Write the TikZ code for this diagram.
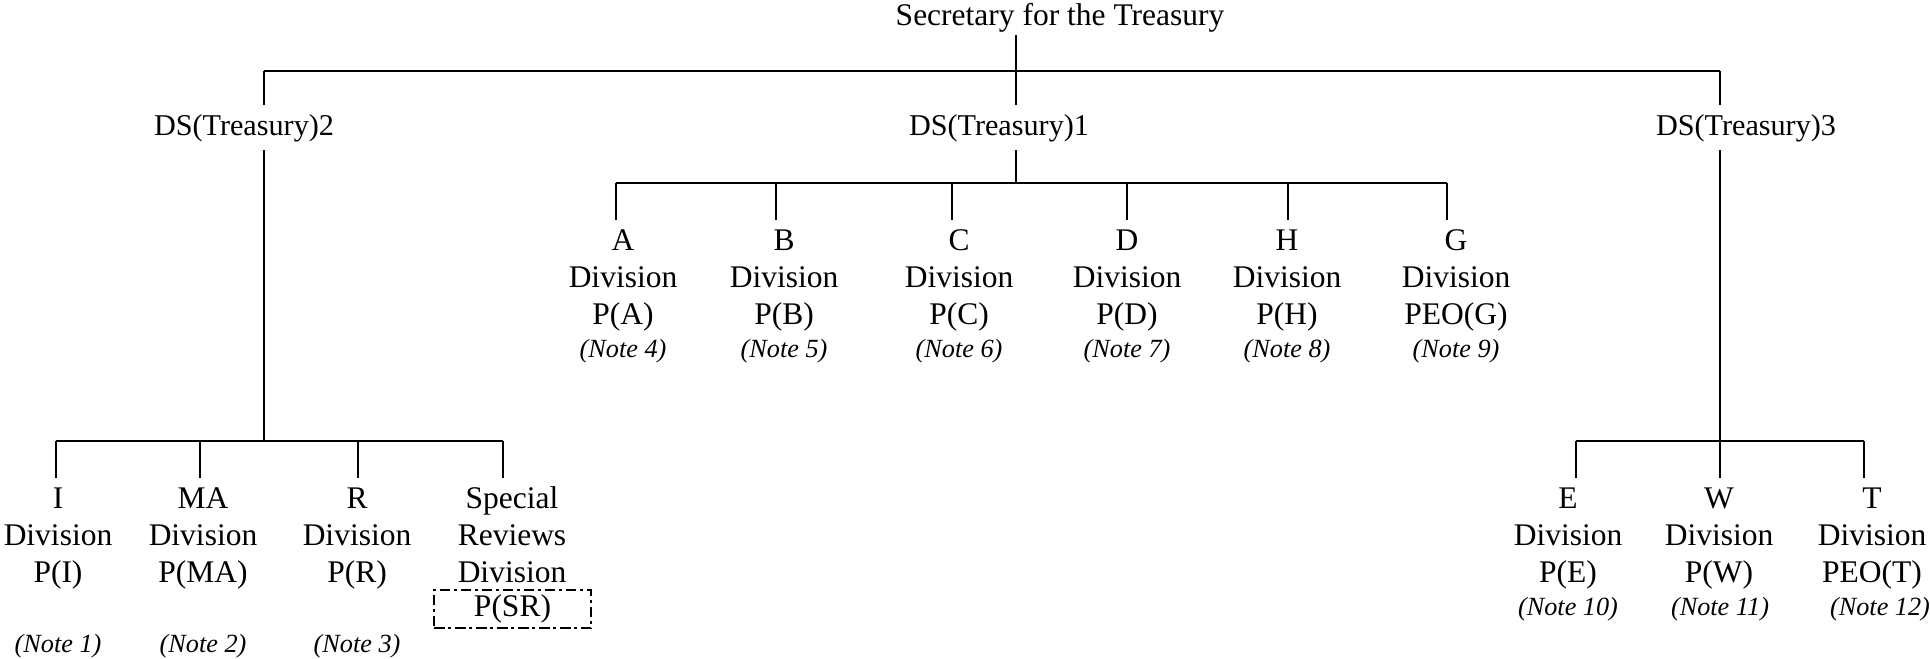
\documentclass[tikz,border=0pt]{standalone}
\usepackage{fontspec}
\setmainfont{Liberation Serif}
\newcommand\divsize{\fontsize{12}{14.1}\selectfont}
\newcommand\dssize{\fontsize{11.5}{13.5}\selectfont}
\newcommand\notesize{\fontsize{10}{12}\selectfont\itshape}
\tikzset{
  unit/.style={align=center,anchor=north,inner sep=1.5pt,font=\divsize},
  deputy/.style={anchor=base,inner sep=3pt,font=\dssize},
  note/.style={anchor=base,inner sep=0pt,font=\notesize},
}
\begin{document}
\begin{tikzpicture}[x=38.1pt,y=-38.1pt,line width=0.8pt]
\useasboundingbox (0,0) rectangle (19.30,6.59);
% heads
\node[anchor=base,inner sep=0.5pt,font=\divsize] (sec) at (10.60,0.26) {Secretary for the Treasury};
\node[deputy] (ds2) at (2.44,1.35) {DS(Treasury)2};
\node[deputy] (ds1) at (9.99,1.35) {DS(Treasury)1};
\node[deputy] (ds3) at (17.46,1.35) {DS(Treasury)3};
% junctions
\coordinate (top) at (10.16,0.71);
\coordinate (j2) at (2.64,0.71);
\coordinate (j3) at (17.20,0.71);
\coordinate (b1) at (10.16,1.83);
\coordinate (b2) at (2.64,4.41);
\coordinate (b3) at (17.20,4.41);
\draw (j2) -- (j3);
\draw (top |- sec.south) -- (top |- ds1.north);
\draw (top |- ds1.south) -- (b1);
\draw (j2) -- (j2 |- ds2.north);
\draw (j2 |- ds2.south) -- (b2);
\draw (j3) -- (j3 |- ds3.north);
\draw (j3 |- ds3.south) -- (b3);
% DS(Treasury)1 divisions
\foreach \n/\lx/\tx/\L/\post/\k in {a/6.16/6.23/A/P(A)/4, b/7.76/7.84/B/P(B)/5,
    c/9.52/9.59/C/P(C)/6, d/11.27/11.27/D/P(D)/7, h/12.88/12.87/H/P(H)/8,
    g/14.47/14.56/G/PEO(G)/9}{
  \node[unit] (u\n) at (\tx,2.20) {\strut\L\\Division\\\post};
  \node[note] (n\n) at (\tx,3.57) {(Note \k)};
  \coordinate (d\n) at (\lx,1.83);
  \draw (d\n) -- (d\n |- u\n.north);
}
\draw (da) -- (dg);
% DS(Treasury)2 divisions
\foreach \n/\lx/\tx/\L/\post/\k in {i/0.56/0.58/I/P(I)/1, ma/2.00/2.03/MA/P(MA)/2,
    r/3.58/3.57/R/P(R)/3}{
  \node[unit] (u\n) at (\tx,4.78) {\strut\L\\Division\\\post};
  \node[note] (n\n) at (\tx,6.52) {(Note \k)};
  \coordinate (d\n) at (\lx,4.41);
  \draw (d\n) -- (d\n |- u\n.north);
}
\node[unit] (usr) at (5.12,4.78) {\strut Special\\Reviews\\Division};
\node[draw,line width=0.6pt,dash pattern=on 4pt off 1.5pt on 1pt off 1.5pt,
  font=\divsize,minimum width=59.8pt,minimum height=14.5pt,inner sep=0pt]
  (psr) at (5.125,6.09) {P(SR)};
\coordinate (dsr) at (5.03,4.41);
\draw (dsr) -- (dsr |- usr.north);
\draw (di) -- (dsr);
% DS(Treasury)3 divisions
\foreach \n/\lx/\tx/\nx/\L/\post/\k in {e/15.76/15.68/15.68/E/P(E)/10,
    w/17.20/17.19/17.20/W/P(W)/11, t/18.64/18.72/18.80/T/PEO(T)/12}{
  \node[unit] (u\n) at (\tx,4.78) {\strut\L\\Division\\\post};
  \node[note] (n\n) at (\nx,6.15) {(Note \k)};
  \coordinate (d\n) at (\lx,4.41);
  \draw (d\n) -- (d\n |- u\n.north);
}
\draw (de) -- (dt);
\end{tikzpicture}
\end{document}
